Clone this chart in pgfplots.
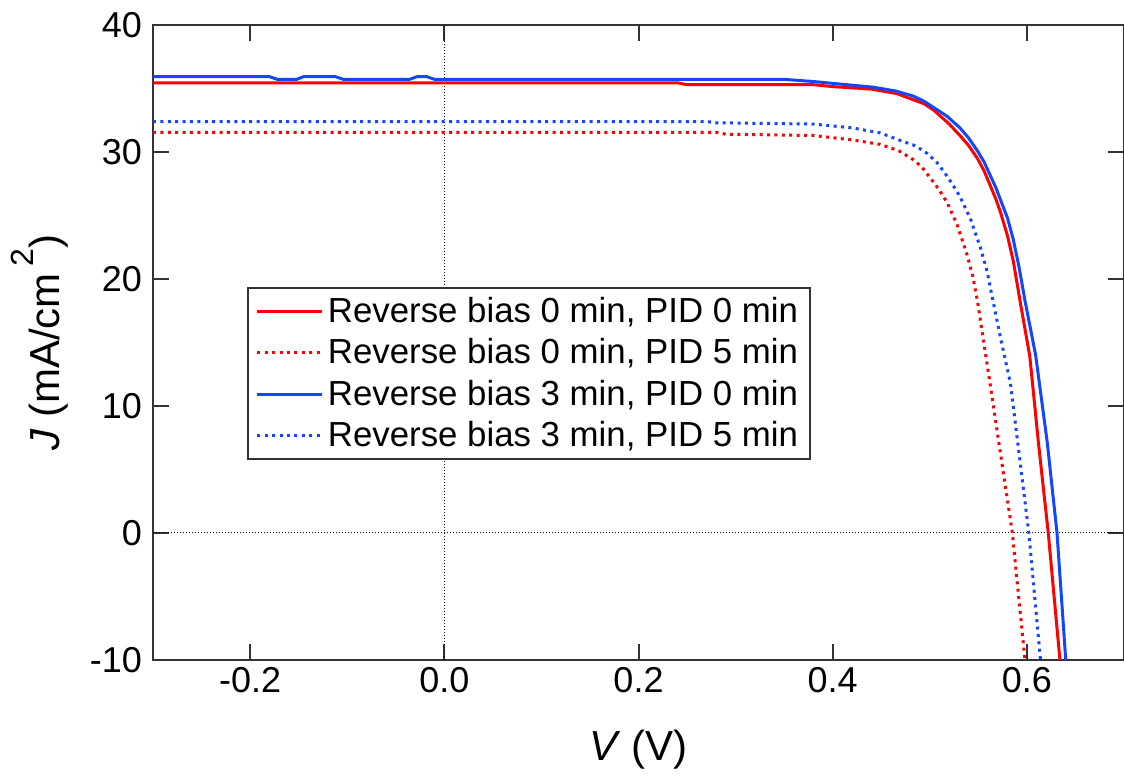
\documentclass[border=0pt]{standalone}
\usepackage{pgfplots}
\pgfplotsset{compat=1.18}
\usepackage{fontspec}
\setmainfont{Liberation Sans}
\usetikzlibrary{calc}

\definecolor{cred}{RGB}{255,0,0}
\definecolor{cblue}{RGB}{20,70,255}

\begin{document}
\begin{tikzpicture}
\begin{axis}[
    name=ax,
    scale only axis,
    width=485.5pt, height=317.5pt,
    xmin=-0.3, xmax=0.7,
    ymin=-10, ymax=40,
    xtick={-0.2,0,0.2,0.4,0.6},
    ytick={-10,0,10,20,30,40},
    /pgf/number format/assume math mode=true,
    xticklabel style={/pgf/number format/.cd, fixed, fixed zerofill, precision=1},
    yticklabel style={/pgf/number format/.cd, fixed, /tikz/.cd, xshift=-2pt},
    tick label style={font=\fontsize{18}{20}\selectfont},
    tick align=inside,
    major tick length=8pt,
    axis line style={line width=1pt, black!80},
    every tick/.style={line width=1pt, black!80},
    xlabel={\textit{V} (V)},
    ylabel={\textit{J} (mA/cm\,\raisebox{0.62em}{\fontsize{16}{16}\selectfont 2})},
    every axis x label/.style={at={(axis description cs:0.5,0)}, anchor=center, yshift=-45pt,
        font=\fontsize{21}{24}\selectfont},
    every axis y label/.style={at={(axis description cs:0,0.5)}, rotate=90, anchor=center, yshift=56.5pt,
        font=\fontsize{21}{24}\selectfont},
    legend style={
        at={(rel axis cs:0.0968,0.587)}, anchor=north west,
        font=\fontsize{17.4}{20}\selectfont,
        draw=black!80, line width=1pt,
        inner xsep=4pt, inner ysep=2.5pt,
        row sep=2.6pt,
        cells={anchor=west},
    },
    legend image code/.code={\draw[#1] (0pt,0pt) -- (32.5pt,0pt);},
    clip=true,
]
% reference lines
\addplot[forget plot, black, line width=0.5pt, dash pattern=on 0.5pt off 1pt] coordinates {(0,-10) (0,40)};
\addplot[forget plot, black, line width=0.5pt, dash pattern=on 0.5pt off 1pt] coordinates {(-0.3,0) (0.7,0)};

% Reverse bias 0 min, PID 0 min
\addplot[cred, line width=1.5pt] coordinates {
(-0.30,35.45) (0.24,35.45) (0.25,35.3) (0.38,35.3) (0.40,35.15) (0.44,34.95)
(0.466,34.6) (0.48,34.2) (0.494,33.8) (0.504,33.3) (0.52,32.2) (0.531,31.3)
(0.540,30.5) (0.549,29.5) (0.556,28.5) (0.562,27.4) (0.568,26.3) (0.573,25.2)
(0.580,23.4) (0.586,21.4) (0.594,17.8) (0.603,13.9) (0.612,7.0)
(0.622,0) (0.634,-10)
};
\addlegendentry{Reverse bias 0 min, PID 0 min}

% Reverse bias 0 min, PID 5 min
\addplot[cred, line width=1.5pt, dash pattern=on 1.5pt off 2.2pt] coordinates {
(-0.30,31.55) (0.28,31.55) (0.29,31.4) (0.38,31.3) (0.42,30.95) (0.449,30.6)
(0.468,30.1) (0.483,29.4) (0.492,28.8) (0.50,28.0) (0.509,27.1) (0.518,26.0)
(0.528,24.3) (0.538,22.0) (0.544,20.3) (0.549,18.3) (0.555,15.3)
(0.562,11.8) (0.585,0) (0.598,-10)
};
\addlegendentry{Reverse bias 0 min, PID 5 min}

% Reverse bias 3 min, PID 0 min
\addplot[cblue, line width=1.5pt] coordinates {
(-0.30,35.93) (-0.18,35.93) (-0.172,35.72) (-0.152,35.72) (-0.145,35.93)
(-0.112,35.93) (-0.104,35.72) (-0.036,35.72) (-0.028,35.93) (-0.018,35.93)
(-0.010,35.72) (0.35,35.72) (0.38,35.55) (0.442,35.1) (0.465,34.8) (0.483,34.4)
(0.494,34.0) (0.504,33.5) (0.518,32.8) (0.531,31.9) (0.540,31.1) (0.549,30.1)
(0.556,29.2) (0.562,28.2) (0.568,27.2) (0.573,26.2) (0.580,24.8) (0.586,23.1)
(0.592,20.9) (0.598,18.3) (0.609,14.0) (0.621,7.1) (0.631,0) (0.640,-10)
};
\addlegendentry{Reverse bias 3 min, PID 0 min}

% Reverse bias 3 min, PID 5 min
\addplot[cblue, line width=1.5pt, dash pattern=on 1.5pt off 2.2pt] coordinates {
(-0.30,32.4) (0.27,32.4) (0.28,32.3) (0.38,32.2) (0.42,31.9) (0.449,31.5)
(0.47,30.9) (0.485,30.5) (0.497,29.9) (0.507,29.2) (0.515,28.4) (0.523,27.5)
(0.531,26.5) (0.542,24.7) (0.552,22.5) (0.559,20.6) (0.565,18.3) (0.573,15.3)
(0.583,11.8) (0.602,0) (0.614,-10)
};
\addlegendentry{Reverse bias 3 min, PID 5 min}
\end{axis}
\pgfresetboundingbox
\path ($(ax.south west)+(-76.5pt,-60pt)$) rectangle ($(ax.north east)+(0pt,12.5pt)$);
\end{tikzpicture}
\end{document}
